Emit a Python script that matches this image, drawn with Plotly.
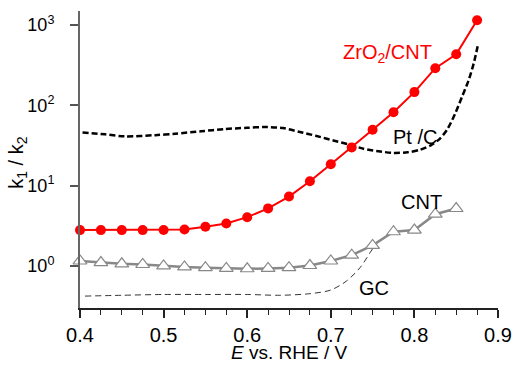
import plotly.graph_objects as go

# ZrO2/CNT
zr_x = [0.4, 0.425, 0.45, 0.475, 0.5, 0.525, 0.55, 0.575, 0.6, 0.625, 0.65, 0.675, 0.7, 0.725, 0.75, 0.775, 0.8, 0.825, 0.85, 0.875]
zr_y = [2.79, 2.79, 2.79, 2.79, 2.8, 2.84, 3.07, 3.37, 4.04, 5.2, 7.3, 11.3, 18.4, 29.9, 49.6, 82, 146, 290, 433, 1150]

# CNT
cnt_x = [0.4, 0.425, 0.45, 0.475, 0.5, 0.525, 0.55, 0.575, 0.6, 0.625, 0.65, 0.675, 0.7, 0.725, 0.75, 0.775, 0.8, 0.825, 0.85]
cnt_y = [1.15, 1.10, 1.06, 1.04, 1.0, 0.97, 0.95, 0.93, 0.92, 0.93, 0.95, 1.01, 1.15, 1.36, 1.80, 2.66, 2.79, 4.4, 5.18]

# Pt/C
pt_x = [0.403, 0.43, 0.454, 0.49, 0.514, 0.545, 0.573, 0.6, 0.621, 0.643, 0.663, 0.683, 0.703, 0.723, 0.739, 0.757, 0.775, 0.792, 0.807, 0.82, 0.83, 0.839, 0.849, 0.857, 0.865, 0.871, 0.876]
pt_y = [45.9, 43.5, 41, 42.5, 44.3, 47.5, 50.6, 52.5, 53.6, 52, 46.5, 41.5, 36.5, 32.3, 28.8, 26.8, 25.5, 26, 28, 32, 38, 49.6, 80, 128, 207, 334, 565]

# GC
gc_x = [0.406, 0.45, 0.5, 0.55, 0.6, 0.639, 0.675, 0.7, 0.719, 0.735, 0.747, 0.752]
gc_y = [0.42, 0.43, 0.44, 0.44, 0.44, 0.43, 0.45, 0.50, 0.65, 0.95, 1.46, 1.76]

y_tickvals = [1, 10, 100, 1000]
y_ticktext = ["10<sup>0</sup>", "10<sup>1</sup>", "10<sup>2</sup>", "10<sup>3</sup>"]
x_tickvals = [0.4, 0.5, 0.6, 0.7, 0.8, 0.9]
x_ticktext = ["0.4", "0.5", "0.6", "0.7", "0.8", "0.9"]

FONT = "Liberation Sans, Arial, sans-serif"
FS = 20

fig = go.Figure()

fig.add_trace(go.Scatter(x=gc_x, y=gc_y, mode="lines",
                         line=dict(color="#333333", width=1, dash="6px,4px", shape="spline", smoothing=0.8),
                         showlegend=False, hoverinfo="skip"))
fig.add_trace(go.Scatter(x=pt_x, y=pt_y, mode="lines",
                         line=dict(color="#000000", width=2.5, dash="6px,3px", shape="spline", smoothing=0.8),
                         showlegend=False, hoverinfo="skip"))
fig.add_trace(go.Scatter(x=cnt_x, y=cnt_y, mode="lines+markers",
                         line=dict(color="#888888", width=2.5),
                         marker=dict(symbol="triangle-up", size=12, color="white",
                                     line=dict(color="#888888", width=1.2)),
                         cliponaxis=False, showlegend=False))
fig.add_trace(go.Scatter(x=zr_x, y=zr_y, mode="lines+markers",
                         line=dict(color="#ff0000", width=2),
                         marker=dict(symbol="circle", size=10, color="#ff0000"),
                         cliponaxis=False, showlegend=False))

annots = [
    dict(x=0.712, y=2.64, text="ZrO<sub>2</sub>/CNT", color="#ff0000"),
    dict(x=0.772, y=1.60, text="Pt /C", color="#000000"),
    dict(x=0.781, y=0.79, text="CNT", color="#000000"),
    dict(x=0.731, y=-0.27, text="GC", color="#000000"),
]
for a in annots:
    fig.add_annotation(x=a["x"], y=a["y"], xref="x", yref="y", text=a["text"],
                       xanchor="left", yanchor="middle",
                       showarrow=False, font=dict(family=FONT, size=FS, color=a["color"]))

# axis titles placed as annotations
fig.add_annotation(x=-0.15, y=0.49, xref="paper", yref="paper", text="k<sub>1</sub> / k<sub>2</sub>",
                   textangle=-90, showarrow=False, xanchor="center", yanchor="middle",
                   font=dict(family=FONT, size=FS, color="#000000"))
fig.add_annotation(x=0.5, y=-0.19, xref="paper", yref="paper", text="<i>E</i> vs. RHE / V",
                   showarrow=False, xanchor="center", yanchor="bottom", borderpad=0,
                   font=dict(family=FONT, size=19, color="#000000"))

fig.update_layout(
    width=513, height=365,
    margin=dict(l=80, r=15, t=11, b=57),
    plot_bgcolor="white", paper_bgcolor="white",
    font=dict(family=FONT, size=FS, color="#000000"),
    xaxis=dict(range=[0.4, 0.9], tickvals=x_tickvals, ticktext=x_ticktext, automargin=False,
               tickfont=dict(family=FONT, size=FS),
               ticks="outside", ticklen=8, tickwidth=1.5, tickcolor="#222222",
               showline=True, linecolor="#222222", linewidth=2, showgrid=False, zeroline=False,
               minor=dict(dtick=0.025, tick0=0.4, ticks="outside", ticklen=5, tickwidth=1.2, tickcolor="#222222", showgrid=False)),
    yaxis=dict(type="log", range=[-0.525, 3.175], tickvals=y_tickvals, ticktext=y_ticktext, automargin=False,
               tickfont=dict(family=FONT, size=18),
               ticks="outside", ticklen=8, tickwidth=1.5, tickcolor="#555555",
               showline=True, linecolor="#666666", linewidth=2, showgrid=False, zeroline=False,
               ticklabelstandoff=12),
)

fig.write_html("out.html")
